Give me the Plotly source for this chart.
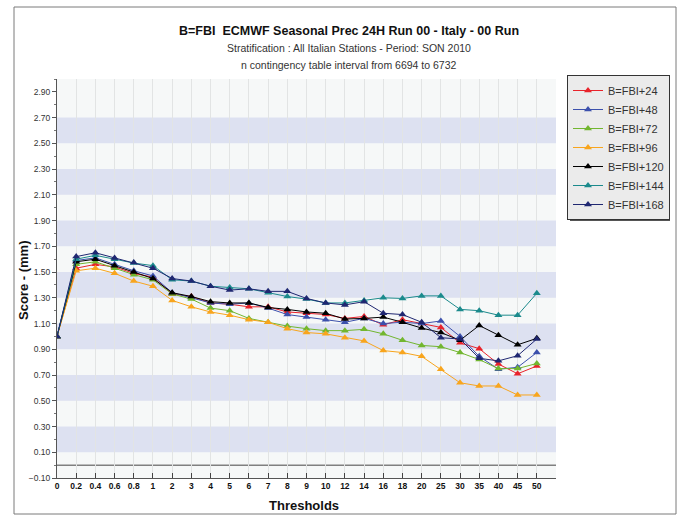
import plotly.graph_objects as go

# Precipitation thresholds (mm) used as categories on the x axis
thresholds = ["0", "0.2", "0.4", "0.6", "0.8", "1", "2", "3", "4", "5", "6", "7", "8", "9",
              "10", "12", "14", "16", "18", "20", "25", "30", "35", "40", "45", "50"]

# Frequency bias scores per forecast lead time
fbi_24 = [1.00, 1.53, 1.56, 1.54, 1.49, 1.46, 1.33, 1.31, 1.26, 1.25, 1.23, 1.23, 1.19,
          1.18, 1.17, 1.14, 1.155, 1.09, 1.13, 1.10, 1.07, 0.95, 0.905, 0.785, 0.71, 0.77]
fbi_48 = [1.00, 1.59, 1.61, 1.56, 1.51, 1.47, 1.34, 1.30, 1.26, 1.25, 1.26, 1.22, 1.17,
          1.15, 1.13, 1.11, 1.14, 1.10, 1.11, 1.10, 1.12, 1.00, 0.845, 0.745, 0.76, 0.875]
fbi_72 = [1.00, 1.56, 1.58, 1.53, 1.48, 1.44, 1.33, 1.29, 1.22, 1.20, 1.14, 1.11, 1.08,
          1.06, 1.045, 1.045, 1.055, 1.02, 0.97, 0.93, 0.92, 0.875, 0.82, 0.75, 0.75, 0.79]
fbi_96 = [1.00, 1.51, 1.53, 1.49, 1.43, 1.39, 1.28, 1.23, 1.19, 1.165, 1.13, 1.11, 1.06,
          1.03, 1.02, 0.99, 0.965, 0.89, 0.875, 0.845, 0.745, 0.64, 0.615, 0.615, 0.545, 0.545]
fbi_120 = [1.00, 1.58, 1.60, 1.55, 1.50, 1.45, 1.34, 1.31, 1.27, 1.26, 1.26, 1.225, 1.21,
           1.19, 1.18, 1.135, 1.14, 1.15, 1.11, 1.065, 1.03, 0.97, 1.085, 1.01, 0.935, 0.985]
fbi_144 = [1.00, 1.60, 1.63, 1.60, 1.57, 1.55, 1.44, 1.43, 1.39, 1.38, 1.37, 1.34, 1.31,
           1.29, 1.26, 1.26, 1.28, 1.30, 1.295, 1.315, 1.315, 1.21, 1.20, 1.165, 1.165, 1.335]
fbi_168 = [1.00, 1.62, 1.65, 1.61, 1.575, 1.53, 1.45, 1.43, 1.39, 1.36, 1.37, 1.35, 1.35,
           1.295, 1.26, 1.245, 1.27, 1.18, 1.17, 1.11, 0.99, 0.98, 0.83, 0.81, 0.85, 0.98]

series_names = ["B=FBI+24", "B=FBI+48", "B=FBI+72", "B=FBI+96",
                "B=FBI+120", "B=FBI+144", "B=FBI+168"]
series_values = [fbi_24, fbi_48, fbi_72, fbi_96, fbi_120, fbi_144, fbi_168]
series_colors = ["#e8232b", "#3c50ac", "#72b62f", "#f8a51d", "#000000", "#1b8a8c", "#1f2771"]

# Shaded horizontal bands (score intervals)
bands = [(0.1, 0.3), (0.5, 0.7), (0.9, 1.1), (1.3, 1.5), (1.7, 1.9), (2.1, 2.3), (2.5, 2.7)]

SANS = "Liberation Sans, Arial, sans-serif"

# plot-area geometry in pixels, used to place paper-referenced decorations
L, R, T, B = 57, 556, 79, 478


def px(x):
    return (x - L) / (R - L)


def py(y):
    return (B - y) / (B - T)


fig = go.Figure()
for name, vals, col in zip(series_names, series_values, series_colors):
    fig.add_trace(go.Scatter(
        x=thresholds, y=vals, name=name, mode="lines+markers",
        line=dict(color=col, width=1),
        marker=dict(symbol="triangle-up", size=7, color=col),
    ))

shapes = []
for lo, hi in bands:
    shapes.append(dict(type="rect", xref="paper", yref="y", x0=0, x1=1, y0=lo, y1=hi,
                       fillcolor="#dde1f1", line=dict(width=0), layer="below"))
# zero reference line
shapes.append(dict(type="line", xref="paper", yref="y", x0=0, x1=1, y0=0, y1=0,
                   line=dict(color="#808080", width=1.5), layer="below"))
# outer frame
shapes.append(dict(type="rect", xref="paper", yref="paper", x0=px(14), x1=px(676),
                   y0=py(514), y1=py(7), line=dict(color="#7a7a7a", width=1)))
# legend drop shadow
shapes.append(dict(type="rect", xref="paper", yref="paper",
                   x0=px(570), x1=px(670), y0=py(221), y1=py(78),
                   fillcolor="#555555", line=dict(width=0)))

annotations = [
    dict(text="<b>B=FBI  ECMWF Seasonal Prec 24H Run 00 - Italy - 00 Run</b>",
         x=px(349), y=py(31), xanchor="center", yanchor="middle",
         xref="paper", yref="paper", showarrow=False,
         font=dict(family=SANS, size=12.5, color="#111111")),
    dict(text="Stratification : All Italian Stations - Period: SON 2010",
         x=px(349), y=py(48), xanchor="center", yanchor="middle",
         xref="paper", yref="paper", showarrow=False,
         font=dict(family=SANS, size=10.5, color="#333333")),
    dict(text="n contingency table interval from 6694 to 6732",
         x=px(349), y=py(65), xanchor="center", yanchor="middle",
         xref="paper", yref="paper", showarrow=False,
         font=dict(family=SANS, size=10.5, color="#333333")),
    dict(text="<b>Score - (mm)</b>", textangle=-90,
         x=px(23), y=py(281), xanchor="center", yanchor="middle",
         xref="paper", yref="paper", showarrow=False,
         font=dict(family=SANS, size=13, color="#111111")),
    dict(text="<b>Thresholds</b>",
         x=px(304), y=py(505), xanchor="center", yanchor="middle",
         xref="paper", yref="paper", showarrow=False,
         font=dict(family=SANS, size=13, color="#111111")),
]

fig.update_layout(
    width=678, height=516,
    margin=dict(l=L, r=678 - R, t=T, b=516 - B, autoexpand=False),
    paper_bgcolor="#ffffff",
    plot_bgcolor="#f6f8f8",
    showlegend=True,
    legend=dict(x=px(567), y=py(75), xanchor="left", yanchor="top",
                bgcolor="#ebebeb", bordercolor="#333333", borderwidth=1,
                font=dict(family=SANS, size=11, color="#333333"),
                itemwidth=30, tracegroupgap=0),
    shapes=shapes,
    annotations=annotations,
)

fig.update_xaxes(
    type="category", range=[0, 26],
    showgrid=True, gridcolor="#e2e4e4", gridwidth=1,
    showline=True, linecolor="#555555", linewidth=1, mirror=False,
    ticks="inside", ticklen=5, tickcolor="#444444",
    tickfont=dict(family=SANS, size=8.5, color="#111111"),
    tickprefix="<b>", ticksuffix="</b>",
    zeroline=False,
)
fig.update_yaxes(
    range=[-0.1, 3.0],
    tick0=-0.1, dtick=0.2, tickformat=".2f",
    showgrid=False,
    showline=True, linecolor="#555555", linewidth=1,
    ticks="outside", ticklen=4, tickcolor="#555555",
    minor=dict(dtick=0.1, tick0=0.0, ticks="outside", ticklen=2, tickcolor="#777777", showgrid=False),
    tickfont=dict(family=SANS, size=8.5, color="#333333"),
    zeroline=False,
)

fig.write_html("out.html")
